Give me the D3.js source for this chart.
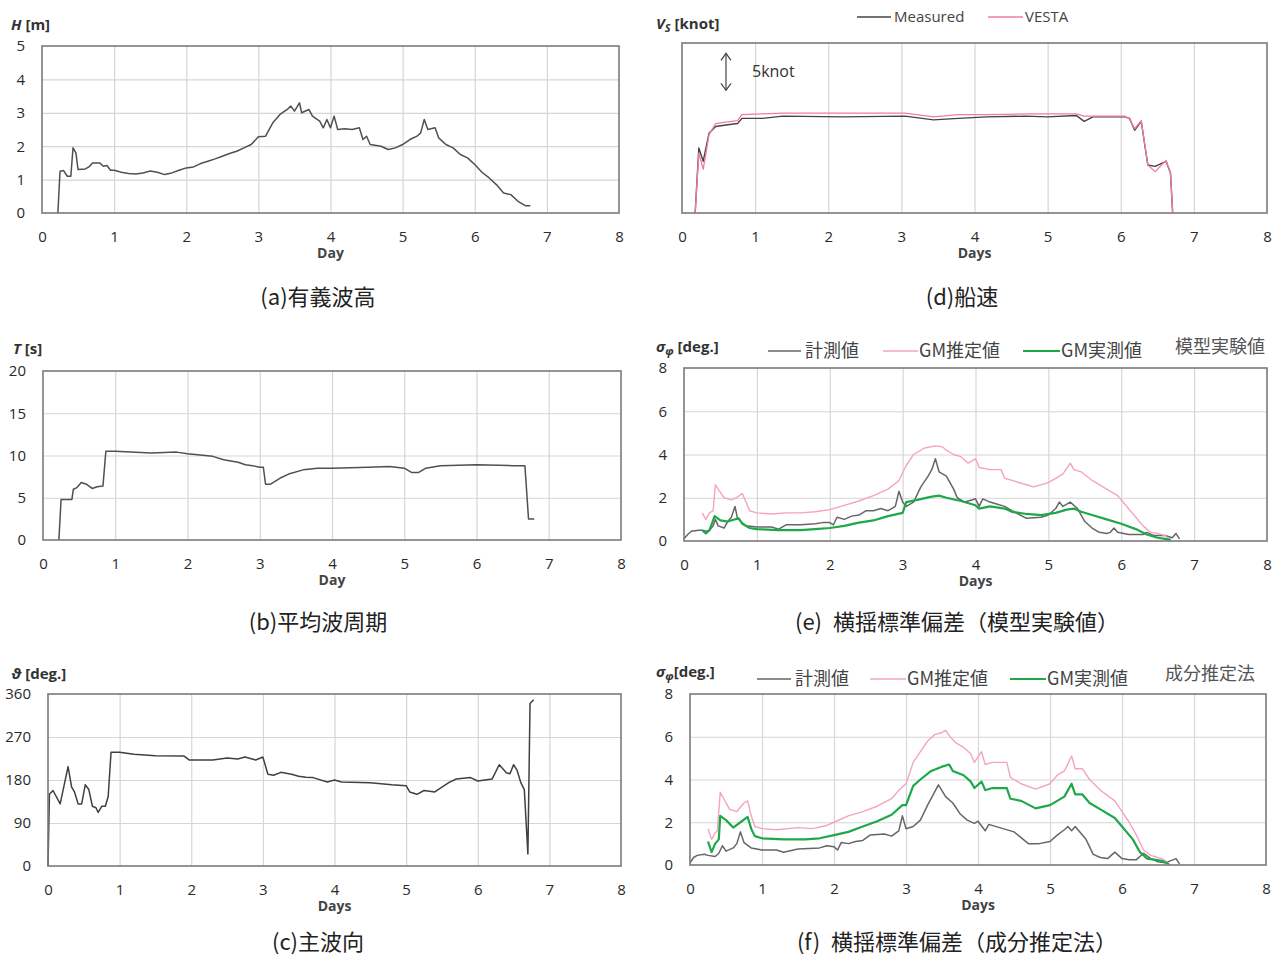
<!DOCTYPE html>
<html><head><meta charset="utf-8">
<script src="https://cdn.jsdelivr.net/npm/d3@7"></script>
<style>body{margin:0;background:#fff}</style>
</head><body><svg id="c" width="1279" height="958"></svg>
<script>
// ---------- DATA ----------
const xTickDays = [0,1,2,3,4,5,6,7,8];

// (a) significant wave height H [m]
const dayH = [0.22,0.25,0.3,0.35,0.4,0.43,0.47,0.5,0.6,0.65,0.7,0.8,0.85,0.9,0.95,1.0,1.1,1.2,1.3,1.4,1.5,1.6,1.7,1.8,1.9,2.0,2.1,2.2,2.3,2.4,2.5,2.6,2.7,2.8,2.9,3.0,3.1,3.2,3.3,3.4,3.45,3.5,3.57,3.6,3.7,3.75,3.85,3.9,3.95,4.0,4.05,4.1,4.2,4.3,4.4,4.45,4.5,4.55,4.7,4.8,4.9,5.0,5.1,5.2,5.25,5.3,5.35,5.45,5.5,5.6,5.7,5.8,5.9,6.0,6.1,6.2,6.3,6.4,6.5,6.6,6.7,6.77];
const waveH = [0,1.25,1.27,1.1,1.1,1.95,1.8,1.3,1.32,1.38,1.5,1.5,1.4,1.42,1.28,1.28,1.22,1.18,1.17,1.2,1.26,1.22,1.15,1.2,1.28,1.35,1.38,1.48,1.55,1.62,1.7,1.78,1.85,1.95,2.05,2.28,2.3,2.7,2.95,3.1,3.2,3.05,3.3,3.0,3.1,2.9,2.75,2.55,2.8,2.55,2.9,2.5,2.52,2.5,2.55,2.2,2.3,2.05,2.0,1.9,1.95,2.05,2.2,2.3,2.4,2.8,2.5,2.55,2.25,2.05,1.95,1.75,1.65,1.45,1.22,1.05,0.85,0.6,0.55,0.35,0.22,0.22];
const yTicksH = [0,1,2,3,4,5];

// (b) mean wave period T [s]
const dayT = [0.22,0.25,0.4,0.42,0.47,0.53,0.6,0.68,0.75,0.83,0.87,1.0,1.5,1.85,2.0,2.35,2.5,2.7,2.8,2.9,3.0,3.05,3.08,3.15,3.3,3.4,3.6,3.8,4.0,4.5,4.8,5.0,5.1,5.2,5.3,5.5,6.0,6.5,6.67,6.72,6.8];
const periodT = [0,4.8,4.8,6.0,6.2,6.8,6.6,6.1,6.3,6.4,10.5,10.5,10.3,10.4,10.2,9.9,9.5,9.2,8.9,8.8,8.6,8.6,6.6,6.6,7.4,7.8,8.3,8.5,8.5,8.6,8.7,8.5,8.0,8.0,8.5,8.8,8.9,8.8,8.8,2.5,2.5];
const yTicksT = [0,5,10,15,20];

// (c) principal wave direction [deg.]
const dayDir = [0.0,0.02,0.07,0.17,0.28,0.33,0.37,0.42,0.47,0.52,0.57,0.62,0.67,0.7,0.75,0.8,0.84,0.88,1.0,1.2,1.5,1.9,1.97,2.3,2.5,2.65,2.75,2.9,3.0,3.07,3.15,3.25,3.4,3.5,3.6,3.7,3.9,4.0,4.1,4.5,4.8,5.0,5.05,5.15,5.25,5.4,5.5,5.6,5.7,5.9,6.0,6.1,6.2,6.3,6.4,6.45,6.5,6.55,6.6,6.65,6.7,6.73,6.78];
const waveDir = [0,150,158,130,208,165,155,130,130,170,160,125,122,112,125,125,145,238,238,234,231,230,222,222,226,224,228,222,228,192,190,196,192,188,186,185,176,180,176,174,170,168,155,150,158,155,165,175,182,185,178,180,182,212,195,193,212,200,175,160,25,340,348];
const yTicksDir = [0,90,180,270,360];

// (d) ship speed [knot]
const daySpd = [0.18,0.23,0.29,0.37,0.46,0.6,0.76,0.82,1.1,1.38,2.2,3.05,3.44,3.78,4.17,4.7,5.0,5.39,5.5,5.62,6.06,6.12,6.19,6.28,6.37,6.47,6.62,6.68,6.71];
const spdMeasured = [0,8.8,7.0,10.8,11.7,11.9,12.1,12.8,12.8,13.1,13.0,13.1,12.6,12.8,13.0,13.1,13.0,13.2,12.4,13.0,13.0,12.8,11.2,12.4,6.5,6.3,7.0,5.4,0];
const spdVesta = [0,8.1,5.9,10.6,12.1,12.3,12.5,13.3,13.4,13.5,13.5,13.5,13.0,13.3,13.3,13.4,13.4,13.4,13.1,13.1,13.1,12.7,11.4,12.5,6.5,5.6,7.1,5.4,0];
const ySpdMax = 23;
const knotArrowTop = 21.6, knotArrowLen = 5;

// (e) roll std. dev. (model test)
const dayEMeas = [0.0,0.05,0.1,0.2,0.25,0.3,0.35,0.4,0.43,0.47,0.55,0.6,0.65,0.7,0.73,0.78,0.85,1.0,1.2,1.3,1.4,1.6,1.8,1.9,2.0,2.05,2.1,2.2,2.3,2.4,2.5,2.6,2.7,2.8,2.9,2.95,3.0,3.05,3.15,3.25,3.35,3.4,3.45,3.5,3.6,3.7,3.75,3.85,3.95,4.0,4.05,4.1,4.2,4.3,4.4,4.5,4.7,4.9,5.0,5.1,5.15,5.2,5.3,5.4,5.5,5.6,5.7,5.8,5.85,5.9,5.95,6.1,6.3,6.35,6.45,6.6,6.7,6.75,6.8];
const rollEMeas = [0.1,0.3,0.45,0.5,0.5,0.45,0.5,0.7,1.0,0.7,0.6,0.9,1.1,1.6,1.1,0.9,0.7,0.65,0.65,0.55,0.75,0.75,0.8,0.85,0.85,0.75,1.1,1.0,1.15,1.2,1.4,1.4,1.5,1.4,1.6,2.3,1.8,1.6,1.8,2.5,3.0,3.3,3.8,3.2,3.0,2.4,2.0,1.8,1.9,1.95,1.6,1.95,1.8,1.7,1.6,1.4,1.05,1.1,1.2,1.5,1.8,1.6,1.8,1.5,0.9,0.6,0.4,0.35,0.4,0.6,0.4,0.3,0.3,0.4,0.25,0.25,0.15,0.35,0.1];
const dayEEst = [0.25,0.3,0.35,0.4,0.43,0.47,0.55,0.65,0.72,0.8,0.85,0.9,1.0,1.2,1.4,1.6,1.8,2.0,2.2,2.4,2.6,2.8,2.95,3.05,3.15,3.3,3.45,3.55,3.6,3.7,3.8,3.9,4.0,4.05,4.2,4.35,4.4,4.5,4.7,4.8,5.0,5.1,5.2,5.3,5.35,5.45,5.6,5.8,5.95,6.05,6.2,6.3,6.4,6.5,6.6,6.65];
const rollEEst = [1.3,1.0,1.3,1.4,2.6,2.4,2.0,1.9,2.0,2.2,1.8,1.4,1.3,1.25,1.3,1.3,1.35,1.45,1.65,1.85,2.1,2.4,2.8,3.5,4.0,4.3,4.4,4.35,4.2,4.0,3.9,3.6,3.8,3.4,3.3,3.3,2.9,2.8,2.6,2.5,2.7,2.9,3.1,3.6,3.3,3.2,2.8,2.4,2.1,1.7,1.1,0.7,0.4,0.35,0.25,0.1];
const dayEGm = [0.25,0.3,0.35,0.42,0.5,0.6,0.75,0.8,0.9,1.0,1.3,1.6,1.8,2.0,2.2,2.4,2.6,2.8,3.0,3.05,3.2,3.4,3.5,3.6,3.8,4.0,4.05,4.2,4.4,4.5,4.7,4.9,5.1,5.25,5.35,5.45,5.6,5.8,6.0,6.2,6.35,6.5,6.6,6.68];
const rollEGm = [0.5,0.35,0.5,1.15,0.95,0.9,1.05,0.8,0.6,0.55,0.5,0.5,0.55,0.6,0.7,0.85,0.95,1.15,1.3,1.8,1.9,2.05,2.1,2.0,1.85,1.65,1.5,1.6,1.5,1.35,1.25,1.2,1.3,1.45,1.5,1.35,1.2,1.0,0.8,0.55,0.3,0.15,0.1,0.05];

// (f) roll std. dev. (component estimation)
const dayFMeas = [0.0,0.05,0.1,0.2,0.25,0.35,0.4,0.45,0.5,0.6,0.65,0.7,0.75,0.85,1.0,1.2,1.3,1.5,1.8,1.9,2.0,2.05,2.1,2.2,2.3,2.4,2.5,2.7,2.8,2.9,2.95,3.0,3.1,3.2,3.3,3.45,3.55,3.65,3.75,3.85,3.95,4.0,4.1,4.15,4.3,4.5,4.7,4.85,5.0,5.1,5.2,5.25,5.3,5.35,5.5,5.6,5.7,5.8,5.9,6.0,6.1,6.2,6.3,6.4,6.5,6.6,6.75,6.8];
const rollFMeas = [0.1,0.35,0.45,0.5,0.45,0.4,0.55,0.9,0.65,0.8,1.0,1.55,1.05,0.8,0.7,0.7,0.6,0.75,0.8,0.9,0.85,0.7,1.05,1.0,1.1,1.15,1.4,1.45,1.35,1.6,2.3,1.7,1.8,2.1,2.8,3.75,3.2,2.9,2.4,2.1,1.95,2.05,1.6,1.9,1.75,1.55,1.0,1.0,1.1,1.4,1.65,1.8,1.6,1.8,1.2,0.5,0.35,0.3,0.6,0.3,0.25,0.25,0.55,0.3,0.15,0.1,0.3,0.05];
const dayFEst = [0.25,0.3,0.35,0.38,0.42,0.47,0.55,0.65,0.75,0.8,0.85,0.9,1.0,1.2,1.5,1.7,1.9,2.0,2.2,2.4,2.6,2.8,2.9,3.0,3.1,3.2,3.3,3.4,3.5,3.55,3.6,3.7,3.8,3.9,3.95,4.05,4.1,4.2,4.4,4.45,4.5,4.6,4.8,5.0,5.1,5.2,5.3,5.35,5.45,5.55,5.7,5.9,6.0,6.1,6.2,6.3,6.4,6.55,6.6,6.67];
const rollFEst = [1.7,1.2,1.5,1.6,3.4,3.1,2.6,2.5,2.9,3.0,2.3,1.8,1.7,1.65,1.75,1.7,1.85,2.0,2.3,2.5,2.75,3.1,3.5,3.8,4.8,5.3,5.8,6.1,6.2,6.3,6.05,5.7,5.5,5.2,4.8,5.3,4.7,4.8,4.8,4.1,4.0,3.8,3.55,3.8,4.2,4.4,5.1,4.5,4.5,4.0,3.5,3.0,2.5,2.0,1.4,0.7,0.45,0.3,0.2,0.0];
const dayFGm = [0.25,0.3,0.35,0.4,0.42,0.5,0.6,0.7,0.8,0.85,0.9,1.0,1.3,1.6,1.8,2.0,2.2,2.4,2.6,2.8,2.95,3.0,3.1,3.2,3.35,3.5,3.6,3.65,3.8,3.9,3.95,4.05,4.1,4.2,4.4,4.45,4.6,4.8,5.0,5.1,5.2,5.3,5.35,5.45,5.55,5.7,5.9,6.0,6.15,6.25,6.35,6.45,6.55,6.65];
const rollFGm = [1.1,0.6,1.0,1.2,2.3,2.1,1.75,2.0,2.25,1.7,1.35,1.25,1.2,1.2,1.25,1.4,1.55,1.8,2.05,2.35,2.8,2.8,3.7,4.0,4.4,4.6,4.7,4.4,4.2,3.9,3.6,3.9,3.5,3.6,3.6,3.1,3.0,2.65,2.8,3.0,3.2,3.8,3.3,3.3,2.9,2.6,2.2,1.8,1.2,0.6,0.3,0.25,0.2,0.05];
const yTicksRoll = [0,2,4,6,8];

// ---------- DRAWING ----------
const svg = d3.select('#c');
const FONT = "'Open Sans', 'Noto Sans', sans-serif";
const CJK = "'Noto Sans CJK JP', 'Noto Sans', sans-serif";
const C_PINK = '#f5a3c4', C_GREEN = '#1fa84a';

function panel(cfg) {
  const x = d3.scaleLinear([0, 8], [cfg.x0, cfg.x1]);
  const y = d3.scaleLinear(cfg.yDomain, [cfg.yB, cfg.yT]);
  const g = svg.append('g');
  const h = cfg.yB - cfg.yT, w = cfg.x1 - cfg.x0;
  g.append('g').attr('transform', `translate(0,${cfg.yB})`)
    .call(d3.axisBottom(x).tickValues(xTickDays.slice(1, -1)).tickSize(-h).tickFormat(''))
    .call(s => { s.select('.domain').remove(); s.selectAll('line').attr('stroke', '#d6d6d6').attr('stroke-width', 1.2); });
  if (cfg.yTicks) {
    g.append('g').attr('transform', `translate(${cfg.x0},0)`)
      .call(d3.axisLeft(y).tickValues(cfg.yTicks.slice(1, -1)).tickSize(-w).tickFormat(''))
      .call(s => { s.select('.domain').remove(); s.selectAll('line').attr('stroke', '#d6d6d6').attr('stroke-width', 1.2); });
    g.append('g').attr('transform', `translate(${cfg.x0},0)`)
      .call(d3.axisLeft(y).tickValues(cfg.yTicks).tickSize(0).tickPadding(17).tickFormat(d3.format('d')))
      .call(s => { s.select('.domain').remove(); s.selectAll('text').attr('font-family', FONT).attr('font-size', 15).attr('fill', '#2a2a2a'); });
  }
  g.append('g').attr('transform', `translate(0,${cfg.yB})`)
    .call(d3.axisBottom(x).tickValues(xTickDays).tickSize(0).tickPadding(18).tickFormat(d3.format('d')))
    .call(s => { s.select('.domain').remove(); s.selectAll('text').attr('font-family', FONT).attr('font-size', 15).attr('fill', '#2a2a2a'); });
  g.append('text').attr('x', x(4)).attr('y', cfg.yB + 45).attr('text-anchor', 'middle')
    .attr('font-family', FONT).attr('font-size', 14).attr('font-weight', 'bold').attr('fill', '#444').text(cfg.xTitle);
  const line = d3.line().x(d => x(d[0])).y(d => y(d[1]));
  cfg.series.forEach(s => {
    g.append('path').datum(d3.zip(s.days, s.vals)).attr('d', line)
      .attr('fill', 'none').attr('stroke', s.color).attr('stroke-width', s.width || 1.5)
      .attr('stroke-linejoin', 'round');
  });
  g.append('rect').attr('x', cfg.x0).attr('y', cfg.yT).attr('width', w).attr('height', h)
    .attr('fill', 'none').attr('stroke', '#7a7a7a').attr('stroke-width', 1.6);
  g.append('text').attr('x', cfg.capX).attr('y', cfg.capY).attr('text-anchor', 'middle')
    .attr('font-family', CJK).attr('font-size', 22).attr('fill', '#222').text(cfg.caption);
  return { x, y, g };
}

function yTitle(xp, yp, parts) {
  const t = svg.append('text').attr('x', xp).attr('y', yp).attr('font-family', FONT)
    .attr('font-size', 15).attr('font-weight', 'bold').attr('fill', '#333');
  parts.forEach(p => {
    const ts = t.append('tspan').text(p.t);
    if (p.i) ts.attr('font-style', 'italic');
    if (p.sub) ts.attr('font-size', 11).attr('dy', 3);
    if (p.up) ts.attr('dy', -3);
  });
}

// (a)
panel({ x0: 42, x1: 619, yT: 46, yB: 213, yDomain: [0, 5], yTicks: yTicksH, xTitle: 'Day',
  caption: '(a)有義波高', capX: 318, capY: 305,
  series: [{ days: dayH, vals: waveH, color: '#505050' }] });
yTitle(11, 30, [{ t: 'H', i: true }, { t: ' [m]' }]);

// (b)
panel({ x0: 43, x1: 621, yT: 371, yB: 540, yDomain: [0, 20], yTicks: yTicksT, xTitle: 'Day',
  caption: '(b)平均波周期', capX: 318, capY: 630,
  series: [{ days: dayT, vals: periodT, color: '#505050' }] });
yTitle(13, 354, [{ t: 'T', i: true }, { t: ' [s]' }]);

// (c)
panel({ x0: 48, x1: 621, yT: 694, yB: 866, yDomain: [0, 360], yTicks: yTicksDir, xTitle: 'Days',
  caption: '(c)主波向', capX: 318, capY: 950,
  series: [{ days: dayDir, vals: waveDir, color: '#404040' }] });
yTitle(11, 679, [{ t: 'ϑ', i: true }, { t: ' [deg.]' }]);

// (d)
const pd = panel({ x0: 682, x1: 1267, yT: 43, yB: 213, yDomain: [0, ySpdMax], yTicks: null, xTitle: 'Days',
  caption: '(d)船速', capX: 962, capY: 305,
  series: [{ days: daySpd, vals: spdMeasured, color: '#444', width: 1.4 },
           { days: daySpd, vals: spdVesta, color: '#f27aa8', width: 1.3 }] });
yTitle(656, 29, [{ t: 'V', i: true }, { t: 'S', i: true, sub: true }, { t: ' [knot]', up: true }]);
{
  const ax = 726, yTop = pd.y(knotArrowTop), yBot = pd.y(knotArrowTop - knotArrowLen);
  const a = svg.append('g').attr('stroke', '#444').attr('stroke-width', 1.2).attr('fill', 'none');
  a.append('line').attr('x1', ax).attr('x2', ax).attr('y1', yTop).attr('y2', yBot);
  a.append('path').attr('d', `M${ax - 5},${yTop + 7}L${ax},${yTop}L${ax + 5},${yTop + 7}`);
  a.append('path').attr('d', `M${ax - 5},${yBot - 7}L${ax},${yBot}L${ax + 5},${yBot - 7}`);
  svg.append('text').attr('x', 752).attr('y', 77).attr('font-family', FONT).attr('font-size', 16)
    .attr('fill', '#333').text('5knot');
}
function legItem(x1, x2, yy, color, width, label, tx, font, fs) {
  svg.append('line').attr('x1', x1).attr('x2', x2).attr('y1', yy).attr('y2', yy)
    .attr('stroke', color).attr('stroke-width', width);
  svg.append('text').attr('x', tx).attr('y', yy + fs * 0.36).attr('font-family', font)
    .attr('font-size', fs).attr('fill', '#444').text(label);
}
legItem(857, 891, 17, '#444', 1.3, 'Measured', 894, FONT, 15);
legItem(988, 1023, 17, '#f27aa8', 1.3, 'VESTA', 1025, FONT, 15);

// (e)
panel({ x0: 684, x1: 1267, yT: 368, yB: 541, yDomain: [0, 8], yTicks: yTicksRoll, xTitle: 'Days',
  caption: '(e)\u2002横揺標準偏差（模型実験値）', capX: 957, capY: 630,
  series: [{ days: dayEMeas, vals: rollEMeas, color: '#666', width: 1.5 },
           { days: dayEEst, vals: rollEEst, color: C_PINK, width: 1.4 },
           { days: dayEGm, vals: rollEGm, color: C_GREEN, width: 2.2 }] });
yTitle(656, 352, [{ t: 'σ', i: true }, { t: 'φ', i: true, sub: true }, { t: ' [deg.]', up: true }]);
legItem(768, 801, 351, '#666', 1.5, '計測値', 805, CJK, 18);
legItem(883, 918, 351, C_PINK, 1.5, 'GM推定値', 919, CJK, 18);
legItem(1023, 1060, 351, C_GREEN, 2.2, 'GM実測値', 1061, CJK, 18);
svg.append('text').attr('x', 1175).attr('y', 353).attr('font-family', CJK).attr('font-size', 18)
  .attr('fill', '#555').text('模型実験値');

// (f)
panel({ x0: 690, x1: 1266, yT: 694, yB: 865, yDomain: [0, 8], yTicks: yTicksRoll, xTitle: 'Days',
  caption: '(f)\u2002横揺標準偏差（成分推定法）', capX: 957, capY: 950,
  series: [{ days: dayFMeas, vals: rollFMeas, color: '#666', width: 1.5 },
           { days: dayFEst, vals: rollFEst, color: C_PINK, width: 1.4 },
           { days: dayFGm, vals: rollFGm, color: C_GREEN, width: 2.2 }] });
yTitle(656, 677, [{ t: 'σ', i: true }, { t: 'φ', i: true, sub: true }, { t: '[deg.]', up: true }]);
legItem(757, 791, 679, '#666', 1.5, '計測値', 795, CJK, 18);
legItem(870, 906, 679, C_PINK, 1.5, 'GM推定値', 907, CJK, 18);
legItem(1010, 1046, 679, C_GREEN, 2.2, 'GM実測値', 1047, CJK, 18);
svg.append('text').attr('x', 1165).attr('y', 680).attr('font-family', CJK).attr('font-size', 18)
  .attr('fill', '#555').text('成分推定法');
</script></body></html>
